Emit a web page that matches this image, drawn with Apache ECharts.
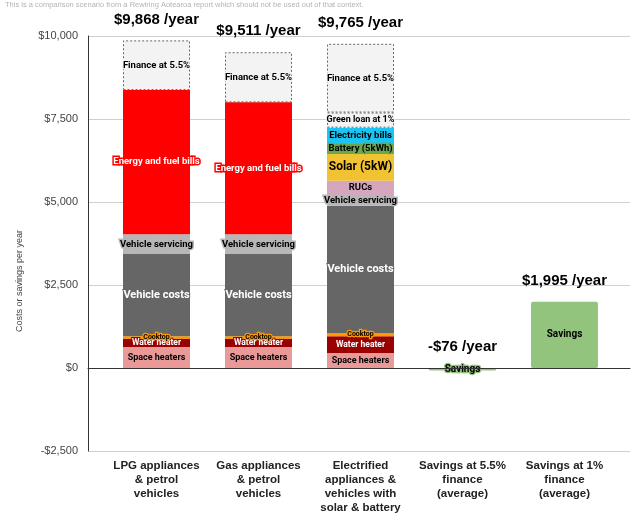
<!DOCTYPE html>
<html>
<head>
<meta charset="utf-8">
<script src="https://cdn.jsdelivr.net/npm/echarts@6/dist/echarts.min.js"></script>
<style>
  html, body { margin: 0; padding: 0; background: #ffffff; }
  #chart { width: 637px; height: 518px; }
</style>
</head>
<body>
<div id="chart"></div>
<script>
// Annual household costs by scenario, and the average savings from electrifying
const categories = [
  'LPG appliances\n& petrol\nvehicles',
  'Gas appliances\n& petrol\nvehicles',
  'Electrified\nappliances &\nvehicles with\nsolar & battery',
  'Savings at 5.5%\nfinance\n(average)',
  'Savings at 1%\nfinance\n(average)'
];

// Stacked cost components, $ per year (bottom to top)
const spaceHeaters     = [630, 630, 450, null, null];
const waterHeater      = [240, 240, 510, null, null];
const cooktop          = [90, 90, 90, null, null];
const vehicleCosts     = [2470, 2470, 3834, null, null];
const vehicleServicing = [602, 602, 327, null, null];
const rucs             = [null, null, 431, null, null];
const solar            = [null, null, 804, null, null];
const battery          = [null, null, 301, null, null];
const electricityBills = [null, null, 491, null, null];
const energyFuelBills  = [4340, 3970, null, null, null];
const greenLoan        = [null, null, 457, null, null];
const finance55        = [1496, 1509, 2070, null, null];
const savings          = [null, null, null, -76, 1995];

const yTicks = { min: -2500, max: 10000, interval: 2500 };

const costParts = [spaceHeaters, waterHeater, cooktop, vehicleCosts, vehicleServicing,
  rucs, solar, battery, electricityBills, energyFuelBills, greenLoan, finance55];

function money(v) {
  const s = Math.round(Math.abs(v)).toString().replace(/\B(?=(\d{3})+(?!\d))/g, ',');
  return (v < 0 ? '-$' : '$') + s;
}

// Height of each stack, and the figure shown above it
const totals = categories.map((_, i) => {
  if (savings[i] != null) return savings[i];
  return costParts.reduce((acc, arr) => acc + (arr[i] || 0), 0);
});

const LABEL_FONT = 'Roboto, "Liberation Sans", Arial, sans-serif';
const AXIS_FONT = '"Liberation Sans", Arial, sans-serif';

function part(name, data, color, opts) {
  opts = opts || {};
  return {
    name: name,
    type: 'bar',
    stack: 'total',
    xAxisIndex: 1,
    yAxisIndex: 1,
    barWidth: 67,
    data: data,
    itemStyle: Object.assign({ color: color }, opts.itemStyle || {}),
    label: {
      show: true,
      position: 'inside',
      formatter: name,
      fontFamily: LABEL_FONT,
      fontWeight: 'bold',
      fontSize: opts.fontSize || 9.5,
      color: opts.textColor || '#000000',
      textBorderColor: opts.outline || color,
      textBorderWidth: opts.outlineWidth != null ? opts.outlineWidth : 2.5
    },
    emphasis: { disabled: true },
    animation: false
  };
}

const dashed = { borderColor: '#666666', borderWidth: 1, borderType: [2, 2] };

const chart = echarts.init(document.getElementById('chart'), null, { renderer: 'canvas' });

chart.setOption({
  backgroundColor: '#ffffff',
  animation: false,
  graphic: [
    {
      type: 'text', left: 5, top: 1,
      style: {
        text: 'This is a comparison scenario from a Rewiring Aotearoa report which should not be used out of that context.',
        font: '7.5px ' + AXIS_FONT, fill: '#b4b4b4'
      }
    },
    {
      type: 'text', x: 20, y: 281, rotation: Math.PI / 2,
      style: {
        text: 'Costs or savings per year',
        font: '9px ' + AXIS_FONT, fill: '#444444',
        align: 'center', verticalAlign: 'middle'
      }
    }
  ],
  grid: [
    { left: 88, right: 7, top: 36, bottom: 67 },
    { left: 105.5, right: 21.5, top: 36, bottom: 67 }
  ],
  xAxis: [
    {
      type: 'value', gridIndex: 0, min: 0, max: 1,
      z: 10,
      axisLine: { show: true, onZero: true, lineStyle: { color: '#333333', width: 1 } },
      axisTick: { show: false }, axisLabel: { show: false }, splitLine: { show: false }
    },
    {
      type: 'category', gridIndex: 1, data: categories,
      axisLine: { show: false }, axisTick: { show: false },
      axisLabel: {
        interval: 0, margin: 8,
        fontFamily: AXIS_FONT, fontWeight: 'bold', fontSize: 11.5,
        lineHeight: 14, color: '#222222'
      }
    }
  ],
  yAxis: [
    {
      type: 'value', gridIndex: 0,
      min: yTicks.min, max: yTicks.max, interval: yTicks.interval,
      axisLine: { show: true, lineStyle: { color: '#333333', width: 1 } },
      axisTick: { show: false },
      axisLabel: {
        formatter: money, margin: 10,
        fontFamily: AXIS_FONT, fontSize: 11, color: '#444444'
      },
      splitLine: { show: true, lineStyle: { color: '#d0d0d0', width: 1 } }
    },
    {
      type: 'value', gridIndex: 1,
      min: yTicks.min, max: yTicks.max, interval: yTicks.interval,
      show: false, splitLine: { show: false }
    }
  ],
  series: [
    part('Space heaters', spaceHeaters, '#ea9999', { fontSize: 9 }),
    part('Water heater', waterHeater, '#990000', { fontSize: 8.5, textColor: '#ffffff', outlineWidth: 2 }),
    part('Cooktop', cooktop, '#ff9900', { fontSize: 7, outlineWidth: 2.5 }),
    part('Vehicle costs', vehicleCosts, '#666666', { fontSize: 11, textColor: '#ffffff', outlineWidth: 2 }),
    part('Vehicle servicing', vehicleServicing, '#b7b7b7', { fontSize: 9.5, outlineWidth: 3 }),
    part('RUCs', rucs, '#d5a6bd', { fontSize: 9.5 }),
    part('Solar (5kW)', solar, '#f1c232', { fontSize: 12 }),
    part('Battery (5kWh)', battery, '#6aa84f', { fontSize: 9.5, outline: '#6aa84f' }),
    part('Electricity bills', electricityBills, '#1bc4f3', { fontSize: 9.5 }),
    part('Energy and fuel bills', energyFuelBills, '#ff0000', { fontSize: 9.5, textColor: '#ffffff', outlineWidth: 3 }),
    part('Green loan at 1%', greenLoan, '#f3f3f3', { fontSize: 9, itemStyle: dashed }),
    part('Finance at 5.5%', finance55, '#f3f3f3', { fontSize: 9.5, itemStyle: dashed }),
    part('Savings', savings, '#93c47d', { fontSize: 10, itemStyle: { borderRadius: 2 } }),
    {
      name: 'Totals',
      type: 'scatter',
      xAxisIndex: 1, yAxisIndex: 1,
      symbolSize: 1,
      itemStyle: { color: 'rgba(0,0,0,0)' },
      data: totals.map(t => Math.max(t, 0)),
      label: {
        show: true, position: 'top', distance: 13,
        formatter: p => money(totals[p.dataIndex]) + ' /year',
        fontFamily: AXIS_FONT, fontWeight: 'bold', fontSize: 15,
        color: '#000000', opacity: 1, textBorderWidth: 0
      },
      z: 20,
      emphasis: { disabled: true },
      animation: false
    }
  ]
});
</script>
</body>
</html>
